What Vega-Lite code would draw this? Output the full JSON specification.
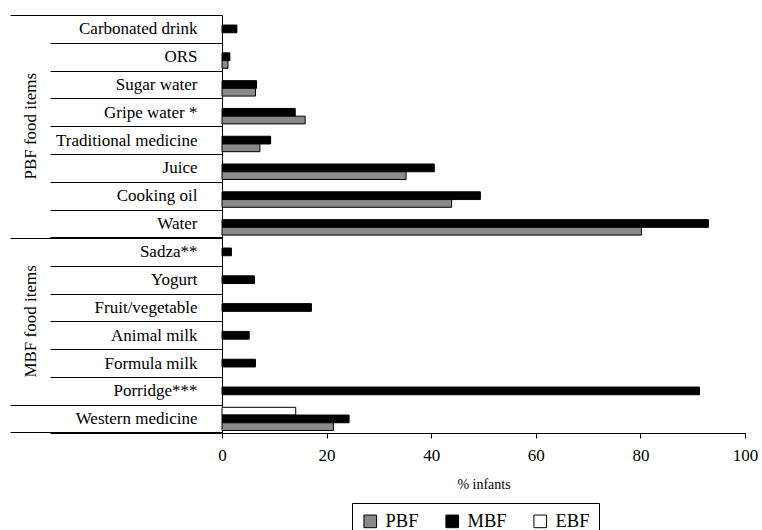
{
  "$schema": "https://vega.github.io/schema/vega-lite/v6.json",
  "padding": {"left": 9, "top": 6, "right": 2, "bottom": 0},
  "background": "white",
  "data": {"values": [
    {"grp": "PBF food items", "item": "Carbonated drink", "series": "MBF", "value": 2.85},
    {"grp": "PBF food items", "item": "ORS", "series": "MBF", "value": 1.5},
    {"grp": "PBF food items", "item": "ORS", "series": "PBF", "value": 1.15},
    {"grp": "PBF food items", "item": "Sugar water", "series": "MBF", "value": 6.6},
    {"grp": "PBF food items", "item": "Sugar water", "series": "PBF", "value": 6.4},
    {"grp": "PBF food items", "item": "Gripe water *", "series": "MBF", "value": 14.0},
    {"grp": "PBF food items", "item": "Gripe water *", "series": "PBF", "value": 15.9},
    {"grp": "PBF food items", "item": "Traditional medicine", "series": "MBF", "value": 9.3},
    {"grp": "PBF food items", "item": "Traditional medicine", "series": "PBF", "value": 7.25},
    {"grp": "PBF food items", "item": "Juice", "series": "MBF", "value": 40.6},
    {"grp": "PBF food items", "item": "Juice", "series": "PBF", "value": 35.2},
    {"grp": "PBF food items", "item": "Cooking oil", "series": "MBF", "value": 49.4},
    {"grp": "PBF food items", "item": "Cooking oil", "series": "PBF", "value": 43.9},
    {"grp": "PBF food items", "item": "Water", "series": "MBF", "value": 93.0},
    {"grp": "PBF food items", "item": "Water", "series": "PBF", "value": 80.2},
    {"grp": "MBF food items", "item": "Sadza**", "series": "MBF", "value": 1.8},
    {"grp": "MBF food items", "item": "Yogurt", "series": "MBF", "value": 6.2},
    {"grp": "MBF food items", "item": "Fruit/vegetable", "series": "MBF", "value": 17.1},
    {"grp": "MBF food items", "item": "Animal milk", "series": "MBF", "value": 5.2},
    {"grp": "MBF food items", "item": "Formula milk", "series": "MBF", "value": 6.4},
    {"grp": "MBF food items", "item": "Porridge***", "series": "MBF", "value": 91.3},
    {"grp": "Other", "item": "Western medicine", "series": "EBF", "value": 14.1},
    {"grp": "Other", "item": "Western medicine", "series": "MBF", "value": 24.3},
    {"grp": "Other", "item": "Western medicine", "series": "PBF", "value": 21.3}
  ]},
  "facet": {
    "row": {
      "field": "grp", "type": "nominal",
      "sort": ["PBF food items", "MBF food items", "Other"],
      "header": {
        "title": null,
        "labelExpr": "datum.value == 'Other' ? '' : datum.value",
        "labelAngle": -90,
        "labelOrient": "left",
        "labelFont": "Liberation Serif",
        "labelFontSize": 17,
        "labelColor": "black",
        "labelPadding": 174
      }
    }
  },
  "spacing": {"row": 0},
  "bounds": "flush",
  "resolve": {"scale": {"y": "independent"}},
  "spec": {
    "width": 523,
    "height": {"step": 7.7222},
    "resolve": {"axis": {"y": "independent"}},
    "layer": [
      {
        "mark": {"type": "bar", "stroke": "black", "strokeWidth": 1},
        "encoding": {
          "y": {
            "field": "item", "type": "nominal", "sort": null,
            "scale": {"paddingInner": 0, "paddingOuter": 0},
            "axis": {
              "orient": "left",
              "title": null,
              "tickBand": "extent",
              "tickSize": 172,
              "tickColor": "black",
              "tickWidth": 1,
              "domainColor": "black",
              "domainWidth": 1,
              "labelPadding": -147,
              "labelFont": "Liberation Serif",
              "labelFontSize": 17,
              "labelColor": "black",
              "labelLimit": 0
            }
          },
          "yOffset": {
            "field": "series", "type": "nominal",
            "scale": {"domain": ["EBF", "MBF", "PBF"], "paddingOuter": 0.3, "paddingInner": 0}
          },
          "x": {
            "field": "value", "type": "quantitative",
            "scale": {"domain": [0, 100], "nice": false},
            "axis": {
              "title": "% infants",
              "values": [0, 20, 40, 60, 80, 100],
              "grid": false,
              "tickSize": 5,
              "tickColor": "black",
              "domainColor": "black",
              "labelFlush": false,
              "labelFont": "Liberation Serif",
              "labelFontSize": 17,
              "labelColor": "black",
              "labelPadding": 9,
              "titleFont": "Liberation Serif",
              "titleFontSize": 14,
              "titleFontWeight": "normal",
              "titleColor": "black",
              "titlePadding": 14
            }
          },
          "fill": {
            "field": "series", "type": "nominal",
            "scale": {"domain": ["PBF", "MBF", "EBF"], "range": ["#8a8a8a", "#000000", "#ffffff"]},
            "legend": {
              "title": null,
              "orient": "none",
              "legendX": 130,
              "legendY": 488,
              "direction": "horizontal",
              "strokeColor": "black",
              "padding": 9,
              "symbolType": "square",
              "symbolSize": 160,
              "symbolStrokeColor": "black",
              "symbolStrokeWidth": 1,
              "labelFont": "Liberation Serif",
              "labelFontSize": 18.5,
              "labelColor": "black",
              "labelOffset": 6,
              "columnPadding": 24
            }
          }
        }
      },
      {
        "mark": {"type": "bar", "opacity": 0},
        "encoding": {
          "y": {
            "field": "item", "type": "nominal", "sort": null,
            "axis": {
              "orient": "left",
              "title": null,
              "values": ["Carbonated drink", "Sadza**", "Western medicine"],
              "bandPosition": 0,
              "tickSize": 212,
              "tickColor": "black",
              "tickWidth": 1,
              "labels": false,
              "domain": false
            }
          },
          "yOffset": {"field": "series", "type": "nominal"},
          "x": {"field": "value", "type": "quantitative"}
        }
      },
      {
        "mark": {"type": "bar", "opacity": 0},
        "encoding": {
          "y": {
            "field": "item", "type": "nominal", "sort": null,
            "axis": {
              "orient": "left",
              "title": null,
              "values": ["Western medicine"],
              "bandPosition": 1,
              "tickSize": 212,
              "tickColor": "black",
              "tickWidth": 1,
              "labels": false,
              "domain": false
            }
          },
          "yOffset": {"field": "series", "type": "nominal"},
          "x": {"field": "value", "type": "quantitative"}
        }
      }
    ]
  },
  "config": {"view": {"stroke": null}, "font": "Liberation Serif"}
}
